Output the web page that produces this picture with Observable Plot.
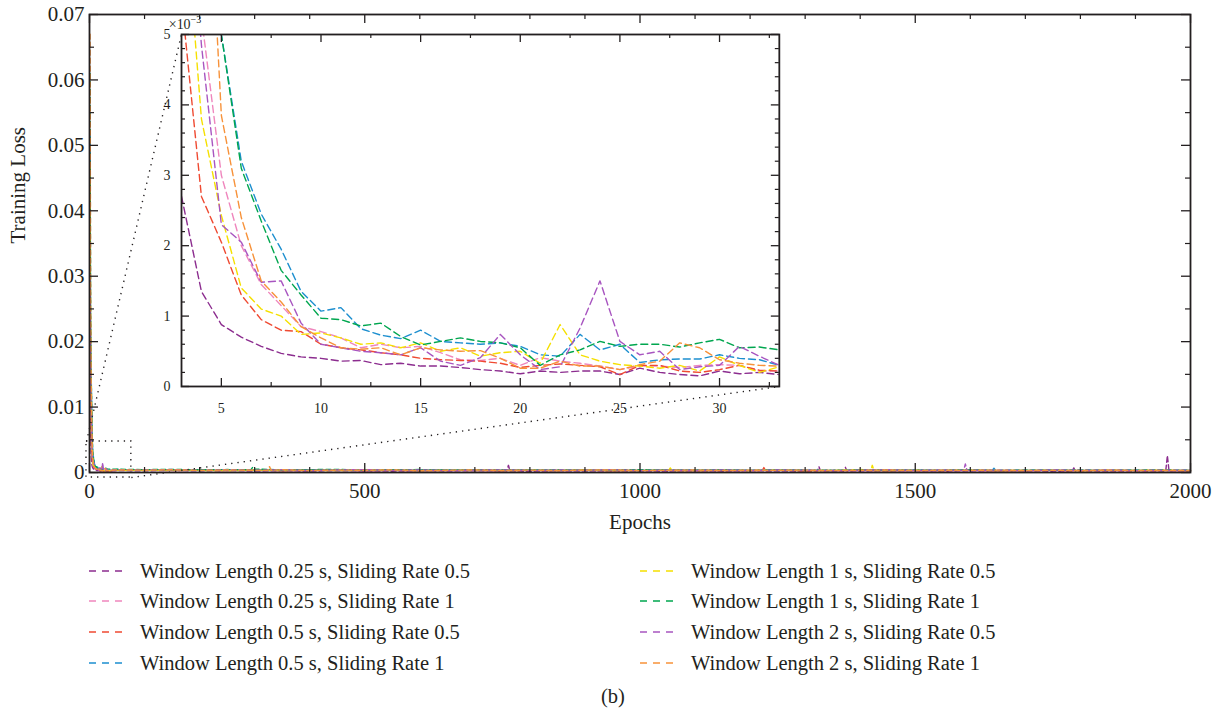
<!DOCTYPE html>
<html><head><meta charset="utf-8">
<script src="https://cdn.jsdelivr.net/npm/d3@7"></script>
<script src="https://cdn.jsdelivr.net/npm/@observablehq/plot@0.6"></script>
<style>
body{margin:0;background:#fff;}
#wrap{position:relative;width:1226px;height:714px;font-family:"Liberation Serif","Times New Roman",serif;color:#231f20;overflow:hidden;}
.lg{position:absolute;height:26px;display:flex;align-items:center;font-size:20.5px;white-space:nowrap;}
.lg svg{margin-right:15px;}
#cap{position:absolute;left:0;width:1226px;text-align:center;font-size:20.5px;}
</style></head><body><div id="wrap"></div>
<script>
// ---------- data ----------
const seriesNames = [
  "Window Length 0.25 s, Sliding Rate 0.5",
  "Window Length 0.25 s, Sliding Rate 1",
  "Window Length 0.5 s, Sliding Rate 0.5",
  "Window Length 0.5 s, Sliding Rate 1",
  "Window Length 1 s, Sliding Rate 0.5",
  "Window Length 1 s, Sliding Rate 1",
  "Window Length 2 s, Sliding Rate 0.5",
  "Window Length 2 s, Sliding Rate 1"
];
const seriesColors = ["#8c2d8f","#ef86bd","#ef4a32","#1d8fcf","#f5e000","#00a64f","#a855c0","#f7923a"];

// loss values in units of 1e-3
const headEpochs = [1, 2];
const headLoss = [[22,6],[36,14],[40,12],[52,24],[47,16],[61,25],[30,15],[67,28]];

const insetEpochs = [3,4,5,6,7,8,9,10,11,12,13,14,15,16,17,18,19,20,21,22,23,24,25,26,27,28,29,30,31,32,33];
const insetLoss = [
  [2.7,1.35,0.88,0.7,0.57,0.47,0.42,0.4,0.36,0.37, 0.31,0.33,0.29,0.29,0.27,0.24,0.22,0.18,0.22,0.2, 0.22,0.22,0.17,0.26,0.2,0.17,0.15,0.22,0.18,0.2, 0.17],
  [8.5,5.25,3.0,2.0,1.45,1.15,0.85,0.78,0.69,0.55, 0.6,0.55,0.57,0.48,0.38,0.37,0.4,0.3,0.41,0.36, 0.33,0.29,0.24,0.29,0.29,0.27,0.3,0.31,0.3,0.22, 0.22],
  [5.5,2.7,2.05,1.3,0.95,0.8,0.78,0.6,0.55,0.52, 0.48,0.45,0.4,0.38,0.37,0.36,0.33,0.27,0.3,0.32, 0.3,0.28,0.17,0.3,0.3,0.22,0.2,0.24,0.3,0.23, 0.22],
  [15,10.5,5.0,3.2,2.45,1.95,1.35,1.07,1.12,0.82, 0.73,0.68,0.8,0.64,0.62,0.6,0.62,0.57,0.45,0.43, 0.74,0.52,0.6,0.34,0.38,0.39,0.39,0.45,0.4,0.38, 0.3],
  [7.4,3.8,2.43,1.4,1.1,1.0,0.74,0.76,0.69,0.6, 0.62,0.55,0.62,0.5,0.55,0.43,0.48,0.5,0.33,0.88, 0.45,0.36,0.31,0.29,0.26,0.3,0.22,0.42,0.3,0.2, 0.28],
  [15,10.5,5.0,3.1,2.35,1.65,1.3,0.97,0.95,0.86, 0.9,0.71,0.59,0.64,0.69,0.64,0.62,0.55,0.3,0.45, 0.52,0.64,0.57,0.6,0.6,0.56,0.62,0.67,0.55,0.56, 0.52],
  [8.5,4.85,2.3,2.05,1.48,1.5,0.9,0.6,0.55,0.5, 0.48,0.45,0.55,0.36,0.3,0.41,0.74,0.45,0.24,0.28, 0.83,1.5,0.64,0.45,0.5,0.24,0.28,0.3,0.57,0.43, 0.3],
  [14,9.3,3.85,2.4,1.5,1.2,0.85,0.69,0.55,0.53, 0.55,0.45,0.55,0.52,0.5,0.51,0.4,0.26,0.26,0.36, 0.29,0.29,0.24,0.31,0.36,0.62,0.55,0.38,0.33,0.3, 0.29]
];

const tailEpochs = [50,100,150,200,250,300,350,400,450,500, 550,600,650,700,750,800,850,900,950,1000,
  1050,1100,1150,1200,1250,1300,1350,1400,1450,1500, 1550,1600,1650,1700,1750,1800,1850,1900,1950,2000];
const tailLoss = [
  [0.3,0.26,0.33,0.24,0.29,0.22,0.27,0.21,0.28,0.23, 0.2,0.26,0.22,0.27,0.23,0.19,0.25,0.21,0.24,0.22, 0.19,0.24,0.2,0.26,0.22,0.19,0.24,0.21,0.23,0.25, 0.19,0.24,0.21,0.23,0.19,0.25,0.21,0.23,0.2,0.22],
  [0.38,0.33,0.3,0.36,0.29,0.32,0.27,0.34,0.3,0.26, 0.32,0.29,0.25,0.31,0.27,0.32,0.26,0.29,0.25,0.31, 0.27,0.24,0.29,0.26,0.31,0.25,0.28,0.24,0.29,0.26, 0.25,0.28,0.23,0.27,0.29,0.25,0.28,0.23,0.26,0.25],
  [0.34,0.38,0.29,0.35,0.3,0.4,0.27,0.32,0.37,0.29, 0.34,0.26,0.35,0.3,0.27,0.34,0.29,0.38,0.26,0.31, 0.35,0.27,0.32,0.29,0.37,0.26,0.31,0.34,0.27,0.32, 0.29,0.35,0.26,0.31,0.34,0.27,0.32,0.29,0.31,0.27],
  [0.45,0.4,0.43,0.37,0.41,0.34,0.38,0.44,0.35,0.4, 0.32,0.38,0.43,0.34,0.37,0.41,0.32,0.38,0.35,0.31, 0.4,0.34,0.37,0.32,0.41,0.35,0.31,0.38,0.34,0.4, 0.32,0.37,0.31,0.35,0.38,0.32,0.37,0.34,0.31,0.35],
  [0.37,0.31,0.4,0.32,0.28,0.38,0.31,0.35,0.29,0.34, 0.4,0.28,0.32,0.37,0.29,0.34,0.31,0.41,0.28,0.32, 0.35,0.29,0.34,0.31,0.38,0.28,0.32,0.45,0.29,0.34, 0.31,0.37,0.28,0.32,0.35,0.29,0.34,0.31,0.37,0.29],
  [0.5,0.44,0.47,0.41,0.45,0.52,0.39,0.44,0.47,0.37, 0.42,0.45,0.36,0.4,0.44,0.37,0.42,0.34,0.4,0.44, 0.36,0.39,0.42,0.34,0.4,0.37,0.33,0.39,0.42,0.34, 0.37,0.4,0.33,0.37,0.34,0.39,0.33,0.36,0.39,0.34],
  [0.42,0.36,0.45,0.33,0.39,0.35,0.41,0.32,0.38,0.44, 0.33,0.39,0.3,0.36,0.41,0.32,0.38,0.35,0.42,0.3, 0.36,0.33,0.39,0.32,0.38,0.35,0.3,0.36,0.41,0.32, 0.38,0.33,0.36,0.3,0.39,0.33,0.38,0.32,0.35,0.36],
  [0.4,0.35,0.41,0.32,0.38,0.33,0.43,0.3,0.37,0.33, 0.4,0.29,0.35,0.38,0.32,0.37,0.3,0.35,0.4,0.29, 0.33,0.38,0.3,0.35,0.32,0.37,0.29,0.33,0.38,0.3, 0.35,0.32,0.37,0.29,0.33,0.3,0.35,0.32,0.3,0.33]
];
// occasional spikes: [series index, epoch, loss (1e-3)]
const spikeRows = [
  [0,758,0.22],[0,761,1.1],[0,764,0.22],
  [0,1322,0.21],[0,1325,0.9],[0,1328,0.21],
  [0,1370,0.2],[0,1373,0.8],[0,1376,0.2],
  [0,1785,0.2],[0,1788,0.7],[0,1791,0.2],
  [0,1955,0.2],[0,1958,2.6],[0,1961,0.21],
  [6,1588,0.33],[6,1591,1.3],[6,1594,0.33],
  [4,1419,0.3],[4,1422,1.1],[4,1425,0.3],
  [4,1052,0.3],[4,1055,0.7],[4,1058,0.3],
  [7,324,0.33],[7,327,0.9],[7,330,0.33],
  [5,293,0.4],[5,296,0.75],[5,299,0.4],
  [2,1222,0.3],[2,1225,0.75],[2,1228,0.3],
  [3,1640,0.33],[3,1643,0.65],[3,1646,0.33]
];

// ticks
const xMajor = [0,500,1000,1500,2000];
const xMinor = [100,200,300,400,600,700,800,900,1100,1200,1300,1400,1600,1700,1800,1900];
const yMajor = [0,0.01,0.02,0.03,0.04,0.05,0.06,0.07];
const yMinor = [0.005,0.015,0.025,0.035,0.045,0.055,0.065];
const insetXMajor = [5,10,15,20,25,30];
const insetXMinor = [7.5,12.5,17.5,22.5,27.5,32.5];
const insetYMajor = [0,1,2,3,4,5];
const insetYMinor = [0.2,0.4,0.6,0.8,1.2,1.4,1.6,1.8,2.2,2.4,2.6,2.8,3.2,3.4,3.6,3.8,4.2,4.4,4.6,4.8];

// zoom region and inset placement (main-plot data units)
const zoomBox = {x1: -5.5, x2: 76, y1: -0.00077, y2: 0.00474};
const insetBox = {x1: 167, x2: 1253, y1: 0.01314, y2: 0.06694};

// ---------- build ----------
const FONT = '"Liberation Serif","Times New Roman",serif';
const INK = "#231f20";
const DASH = "7,4";
const DOT = "1.3,5";

const mainRows = [];
seriesNames.forEach((name, s) => {
  headEpochs.forEach((e, i) => mainRows.push({series: name, epoch: e, loss: headLoss[s][i] * 1e-3}));
  insetEpochs.forEach((e, i) => mainRows.push({series: name, epoch: e, loss: insetLoss[s][i] * 1e-3}));
  tailEpochs.forEach((e, i) => { if (tailLoss[s][i] != null) mainRows.push({series: name, epoch: e, loss: tailLoss[s][i] * 1e-3}); });
});
spikeRows.forEach(([s, e, v]) => mainRows.push({series: seriesNames[s], epoch: e, loss: v * 1e-3}));
mainRows.sort((a, b) => a.epoch - b.epoch);

const insetRows = [];
seriesNames.forEach((name, s) => insetEpochs.forEach((e, i) => insetRows.push({series: name, epoch: e, loss: insetLoss[s][i]})));

const connectors = [
  {x1: zoomBox.x1, y1: zoomBox.y2, x2: insetBox.x1, y2: insetBox.y2},
  {x1: zoomBox.x2, y1: zoomBox.y1, x2: insetBox.x2, y2: insetBox.y1}
];

const W = 1226, H = 545, mL = 89, mR = 36, mT = 14, mB = 73;
const fW = W - mL - mR, fH = H - mT - mB;
const colorScale = {domain: seriesNames, range: seriesColors};

const main = Plot.plot({
  width: W, height: H, marginLeft: mL, marginRight: mR, marginTop: mT, marginBottom: mB,
  x: {domain: [0, 2000]}, y: {domain: [0, 0.07]},
  color: colorScale,
  style: {fontFamily: FONT, fontSize: "21px", color: INK, background: "transparent", overflow: "visible"},
  marks: [
    Plot.line(mainRows, {x: "epoch", y: "loss", z: "series", stroke: "series", strokeWidth: 1.4, strokeDasharray: "5,3"}),
    Plot.rect([zoomBox], {x1: "x1", x2: "x2", y1: "y1", y2: "y2", fill: "none", stroke: INK, strokeWidth: 1.4, strokeDasharray: DOT}),
    Plot.link(connectors, {x1: "x1", y1: "y1", x2: "x2", y2: "y2", stroke: INK, strokeWidth: 1.4, strokeDasharray: DOT}),
    Plot.frame({stroke: INK, strokeWidth: 1.8}),
    Plot.tickX(xMajor, {x: d => d, insetTop: fH - 9, stroke: INK, strokeWidth: 1.3}),
    Plot.tickX(xMajor, {x: d => d, insetBottom: fH - 9, stroke: INK, strokeWidth: 1.3}),
    Plot.tickX(xMinor, {x: d => d, insetTop: fH - 5, stroke: INK, strokeWidth: 1.2}),
    Plot.tickX(xMinor, {x: d => d, insetBottom: fH - 5, stroke: INK, strokeWidth: 1.2}),
    Plot.tickY(yMajor, {y: d => d, insetRight: fW - 9, stroke: INK, strokeWidth: 1.3}),
    Plot.tickY(yMajor, {y: d => d, insetLeft: fW - 9, stroke: INK, strokeWidth: 1.3}),
    Plot.tickY(yMinor, {y: d => d, insetRight: fW - 5, stroke: INK, strokeWidth: 1.2}),
    Plot.tickY(yMinor, {y: d => d, insetLeft: fW - 5, stroke: INK, strokeWidth: 1.2}),
    Plot.axisX({ticks: xMajor, label: null, tickSize: 0, tickPadding: 11, tickFormat: d => String(d), fill: INK}),
    Plot.axisY({ticks: yMajor, label: null, tickSize: 0, tickPadding: 5, tickFormat: d => d === 0 ? "0" : d.toFixed(2), fill: INK}),
    Plot.text(["Epochs"], {frameAnchor: "bottom", dy: 56, text: d => d, fill: INK, fontSize: 21}),
    Plot.text(["Training Loss"], {frameAnchor: "left", dx: -71, rotate: -90, text: d => d, fill: INK, fontSize: 21})
  ]
});
main.style.position = "absolute"; main.style.left = "0px"; main.style.top = "0px";
const wrap = document.getElementById("wrap");
wrap.appendChild(main);

// ---------- inset ----------
const sx = main.scale("x"), sy = main.scale("y");
const ix1 = sx.apply(insetBox.x1), ix2 = sx.apply(insetBox.x2);
const iyTop = sy.apply(insetBox.y2), iyBot = sy.apply(insetBox.y1);
const iL = 30, iR = 10, iT = 22, iB = 42;
const ifW = ix2 - ix1, ifH = iyBot - iyTop;

const inset = Plot.plot({
  width: ifW + iL + iR, height: ifH + iT + iB,
  marginLeft: iL, marginRight: iR, marginTop: iT, marginBottom: iB,
  x: {domain: [3, 33]}, y: {domain: [0, 5]},
  color: colorScale,
  style: {fontFamily: FONT, fontSize: "14px", color: INK, background: "transparent", overflow: "visible"},
  marks: [
    Plot.line(insetRows, {x: "epoch", y: "loss", z: "series", stroke: "series", strokeWidth: 1.4, strokeDasharray: DASH, clip: true}),
    Plot.frame({stroke: INK, strokeWidth: 1.8}),
    Plot.tickX(insetXMajor, {x: d => d, insetTop: ifH - 8, stroke: INK, strokeWidth: 1.3}),
    Plot.tickX(insetXMajor, {x: d => d, insetBottom: ifH - 8, stroke: INK, strokeWidth: 1.3}),
    Plot.tickX(insetXMinor, {x: d => d, insetTop: ifH - 4, stroke: INK, strokeWidth: 1.2}),
    Plot.tickX(insetXMinor, {x: d => d, insetBottom: ifH - 4, stroke: INK, strokeWidth: 1.2}),
    Plot.tickY(insetYMajor, {y: d => d, insetRight: ifW - 8, stroke: INK, strokeWidth: 1.3}),
    Plot.tickY(insetYMajor, {y: d => d, insetLeft: ifW - 8, stroke: INK, strokeWidth: 1.3}),
    Plot.tickY(insetYMinor, {y: d => d, insetRight: ifW - 4, stroke: INK, strokeWidth: 1.2}),
    Plot.tickY(insetYMinor, {y: d => d, insetLeft: ifW - 4, stroke: INK, strokeWidth: 1.2}),
    Plot.axisX({ticks: insetXMajor, label: null, tickSize: 0, tickPadding: 17, tickFormat: d => String(d), fill: INK}),
    Plot.axisY({ticks: insetYMajor, label: null, tickSize: 0, tickPadding: 11, tickFormat: d => String(d), fill: INK})
  ]
});
inset.style.position = "absolute";
inset.style.left = (ix1 - iL) + "px";
inset.style.top = (iyTop - iT) + "px";
wrap.appendChild(inset);
// exponent label
const expo = d3.select(inset).append("text")
  .attr("x", iL + 4).attr("y", iT - 5)
  .attr("fill", INK).attr("font-family", FONT).attr("font-size", 14);
expo.append("tspan").text("×10");
expo.append("tspan").attr("font-size", 10).attr("dy", -6).text("−3");

// ---------- legend ----------
const legendRowsY = [571, 601, 632, 663];
const legendColsX = [89, 640];
seriesNames.forEach((name, s) => {
  const col = Math.floor(s / 4), row = s % 4;
  const item = document.createElement("div");
  item.className = "lg";
  item.style.left = legendColsX[col] + "px";
  item.style.top = (legendRowsY[row] - 13) + "px";
  item.innerHTML = `<svg width="36" height="4"><line x1="0" x2="36" y1="2" y2="2" stroke="${seriesColors[s]}" stroke-width="1.5" stroke-dasharray="7,6"/></svg><span>${name}</span>`;
  wrap.appendChild(item);
});
const cap = document.createElement("div");
cap.id = "cap"; cap.textContent = "(b)";
cap.style.top = (697 - 12) + "px";
wrap.appendChild(cap);
</script>
</body></html>
